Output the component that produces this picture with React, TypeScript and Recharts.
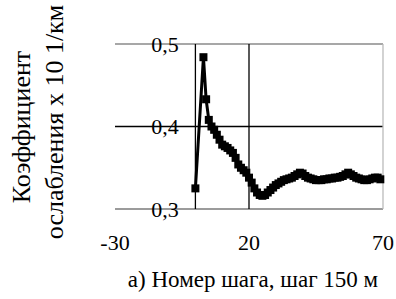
import { LineChart, Line, XAxis, YAxis, ReferenceLine } from "recharts";

// step number along the route (шаг 150 м)
const steps = [
  0, 3, 4, 5, 6, 7, 8, 9, 10, 11, 12, 13, 14, 15, 16, 17, 18, 19, 20, 21, 22, 23, 24, 25, 26,
  27, 28, 29, 30, 31, 32, 33, 34, 35, 36, 37, 38, 39, 40, 41, 42, 43, 44, 45, 46, 47, 48, 49,
  50, 51, 52, 53, 54, 55, 56, 57, 58, 59, 60, 61, 62, 63, 64, 65, 66, 67, 68, 69,
];

// attenuation coefficient, x 10 1/km
const coefs = [
  0.325, 0.484, 0.433, 0.408, 0.4, 0.396, 0.39, 0.384, 0.378, 0.376, 0.374, 0.371, 0.368,
  0.362, 0.354, 0.35, 0.347, 0.344, 0.338, 0.332, 0.325, 0.32, 0.317, 0.316, 0.317, 0.32,
  0.323, 0.326, 0.329, 0.331, 0.333, 0.335, 0.336, 0.337, 0.338, 0.34, 0.342, 0.344, 0.343,
  0.34, 0.338, 0.337, 0.336, 0.335, 0.335, 0.335, 0.336, 0.336, 0.337, 0.337, 0.338, 0.338,
  0.339, 0.34, 0.342, 0.344, 0.342, 0.34, 0.338, 0.337, 0.336, 0.335, 0.335, 0.336, 0.337,
  0.338, 0.338, 0.336,
];

const xTicks = [-30, 20, 70];
const yTicks = [0.3, 0.4, 0.5];

const hLines = [
  { y: 0.5, color: "#8a8a8a" },
  { y: 0.4, color: "#000" },
  { y: 0.3, color: "#7a7a7a" },
];
const vLines = [
  { x: 0, color: "#000" },
  { x: 20, color: "#000" },
  { x: 70, color: "#bbbbbb" },
];

const data = steps.map((s, i) => ({ step: s, k: coefs[i] }));

const FONT = '"Liberation Serif", "Times New Roman", serif';
const fmt = (v: number) => v.toFixed(1).replace(".", ",");

const SquareDot = (props: any) => {
  const { cx, cy, index } = props;
  if (cx == null || cy == null) return null;
  return <rect key={index} x={cx - 4} y={cy - 4} width={8} height={8} fill="#000" />;
};

const YTick = (props: any) => {
  const { y, payload } = props;
  return (
    <text
      x={165}
      y={y}
      textAnchor="middle"
      dominantBaseline="central"
      fontFamily={FONT}
      fontSize={22}
      fill="#000"
    >
      {fmt(Number(payload.value))}
    </text>
  );
};

export default function App() {
  return (
    <div style={{ position: "absolute", left: 0, top: 0, width: 396, height: 299, background: "#fff" }}>
      <LineChart
        width={396}
        height={299}
        data={data}
        margin={{ top: 44, right: 13, left: 55, bottom: 60 }}
      >
        <XAxis
          dataKey="step"
          type="number"
          domain={[-30, 70]}
          ticks={xTicks}
          axisLine={false}
          tickLine={false}
          tickSize={0}
          tickMargin={25}
          height={30}
          tick={{ fontSize: 22, fill: "#000", fontFamily: FONT }}
        />
        <YAxis
          type="number"
          domain={[0.3, 0.5]}
          ticks={yTicks}
          width={60}
          axisLine={false}
          tickLine={false}
          tick={<YTick />}
        />
        {hLines.map((l) => (
          <ReferenceLine key={"h" + l.y} y={l.y} stroke={l.color} strokeWidth={1.3} />
        ))}
        {vLines.map((l) => (
          <ReferenceLine key={"v" + l.x} x={l.x} stroke={l.color} strokeWidth={1.3} />
        ))}
        <Line
          type="linear"
          dataKey="k"
          stroke="#000"
          strokeWidth={3}
          dot={<SquareDot />}
          activeDot={false}
          isAnimationActive={false}
        />
      </LineChart>
      <svg
        width={396}
        height={299}
        style={{ position: "absolute", left: 0, top: 0, pointerEvents: "none" }}
      >
        <g fontFamily={FONT} fill="#000" textAnchor="middle">
          <text x={30} y={127} fontSize={26} transform="rotate(-90 30 127)">
            Коэффициент
          </text>
          <text x={63} y={122} fontSize={26} transform="rotate(-90 63 122)">
            ослабления х 10 1/км
          </text>
          <text x={253} y={287} fontSize={23}>
            а) Номер шага, шаг 150 м
          </text>
        </g>
      </svg>
    </div>
  );
}
